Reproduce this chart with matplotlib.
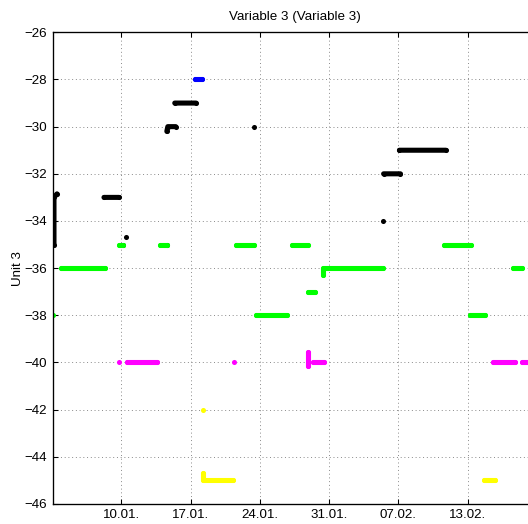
import numpy as np
import matplotlib.pyplot as plt

plt.rcParams["font.family"] = ["Liberation Sans", "DejaVu Sans"]

nan = np.nan

# x axis in days since 01.01.
tick_days = [10, 17, 24, 31, 38, 45]
tick_labels = ["10.01.", "17.01.", "24.01.", "31.01.", "07.02.", "13.02."]
y_ticks = list(range(-46, -25, 2))

# each series: runs of readings separated by nan gaps
black_day = [3.1, 3.2, 3.2, 3.5, nan,
             8.25, 9.77, nan,
             10.2, nan, 10.47, nan, 14.6, nan,
             14.6, 14.7, 15.5, nan,
             15.4, 17.55, nan,
             23.4, nan,
             36.4, nan,
             36.5, 38.2, nan,
             38.1, 42.8]
black_val = [-35, -35, -33, -32.85, nan,
             -33, -33, nan,
             -35, nan, -34.7, nan, -35, nan,
             -30.2, -30, -30, nan,
             -29, -29, nan,
             -30, nan,
             -34, nan,
             -32, -32, nan,
             -31, -31]

blue_day = [17.45, 18.15]
blue_val = [-28, -28]

green_day = [3.1, nan,
             3.9, 8.35, nan,
             9.77, 10.2, nan,
             13.9, 14.6, nan,
             21.6, 23.4, nan,
             23.6, 26.75, nan,
             27.25, 28.85, nan,
             28.85, 29.55, nan,
             30.4, 30.4, 36.4, nan,
             42.6, 45.35, nan,
             45.25, 46.75, nan,
             49.6, 50.5]
green_val = [-38, nan,
             -36, -36, nan,
             -35, -35, nan,
             -35, -35, nan,
             -35, -35, nan,
             -38, -38, nan,
             -35, -35, nan,
             -37, -37, nan,
             -36.3, -36, -36, nan,
             -35, -35, nan,
             -38, -38, nan,
             -36, -36]

magenta_day = [9.77, nan,
               10.57, 13.6, nan,
               21.4, nan,
               28.85, 28.85, nan,
               29.35, 30.45, nan,
               47.55, 49.75, nan,
               50.5, 51.3]
magenta_val = [-40, nan,
               -40, -40, nan,
               -40, nan,
               -39.55, -40.15, nan,
               -40, -40, nan,
               -40, -40, nan,
               -40, -40]

yellow_day = [18.25, nan,
              18.25, 18.25, 21.3, nan,
              46.65, 47.75]
yellow_val = [-42, nan,
              -44.7, -45, -45, nan,
              -45, -45]

series = [
    (black_day, black_val, "#000000"),
    (blue_day, blue_val, "#0000ff"),
    (green_day, green_val, "#00ff00"),
    (magenta_day, magenta_val, "#ff00ff"),
    (yellow_day, yellow_val, "#ffff00"),
]

fig = plt.figure(figsize=(528 / 96, 524 / 96), dpi=96)
ax = fig.add_axes([52.5 / 528, 20 / 524, (537 - 52.5) / 528, 471.7 / 524])

for days, vals, color in series:
    ax.plot(days, vals, color=color, linewidth=3.8, marker="o", markersize=3.8,
            markeredgewidth=0, solid_capstyle="round", solid_joinstyle="round")

ax.set_xlim(3.05, 52.0)
ax.set_ylim(-46, -26)
ax.set_xticks(tick_days)
ax.set_xticklabels(tick_labels)
ax.set_yticks(y_ticks)

ax.set_axisbelow(True)
ax.grid(True, linestyle=(0, (1, 3)), color="#808080", linewidth=0.7)
ax.tick_params(direction="in", top=True, right=True, length=4, width=0.8,
               labelsize=10, pad=4)
for spine in ax.spines.values():
    spine.set_linewidth(1.0)

ax.set_title("Variable 3 (Variable 3)", fontsize=10, pad=9)
ax.set_ylabel("Unit 3", fontsize=10, labelpad=0)

fig.savefig("out.png", dpi=96)
plt.close(fig)
